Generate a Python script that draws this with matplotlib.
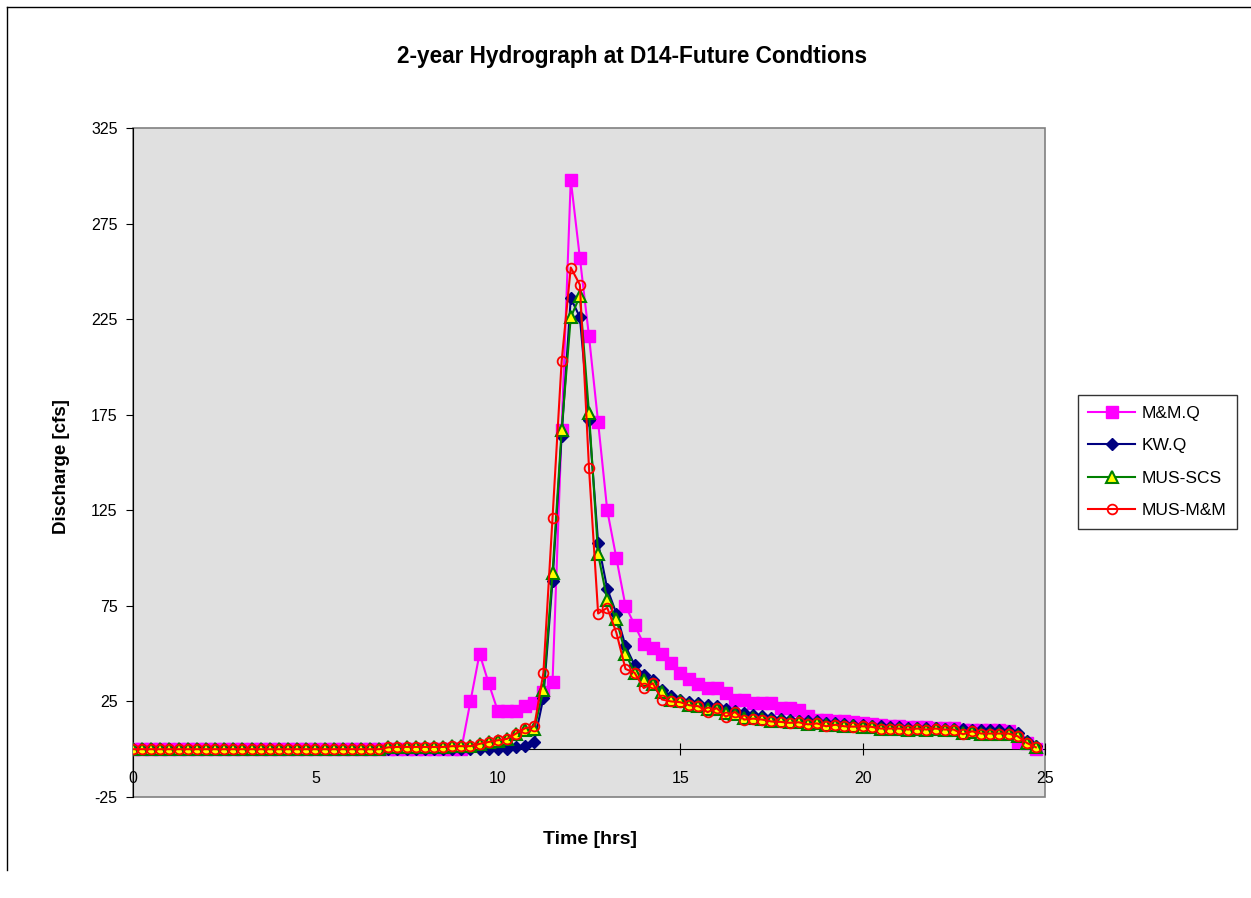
import numpy as np
import matplotlib
matplotlib.use('Agg')
import matplotlib.pyplot as plt
from matplotlib.lines import Line2D

# time axis, 15 minute steps
time_hrs = np.arange(0, 25, 0.25)

mm_q = [0, 0, 0, 0, 0, 0, 0, 0, 0, 0,
        0, 0, 0, 0, 0, 0, 0, 0, 0, 0,
        0, 0, 0, 0, 0, 0, 0, 0, 0, 0,
        0, 0, 0, 0, 0, 0, 0, 25, 50, 34.5,
        20, 20, 20, 22.5, 24, 30, 35, 167, 298, 257,
        216, 171, 125, 100, 75, 65, 55, 53, 50, 45,
        40, 36.5, 34, 32, 32, 29.5, 26, 26, 24, 24,
        24, 21.5, 21.5, 20.5, 17.5, 15.5, 15.5, 15, 14.5, 14,
        13.5, 13, 12.5, 12, 12, 11.5, 11.5, 11.5, 11, 11,
        11, 10, 10, 10, 10, 10, 9.5, 4, 3, 0]

kw_q = [0, 0, 0, 0, 0, 0, 0, 0, 0, 0,
        0, 0, 0, 0, 0, 0, 0, 0, 0, 0,
        0, 0, 0, 0, 0, 0, 0, 0, 0, 0,
        0, 0, 0, 0, 0, 0, 0, 0, 0, 0,
        0, 0.3, 1, 1.5, 4, 27, 88, 164, 236, 226,
        172, 108, 84, 71, 54, 44, 39, 36, 31, 28,
        26, 24.5, 24, 23, 22.5, 21, 20, 19, 18, 17.5,
        16.5, 16, 15.5, 15, 14.5, 14.5, 13.5, 13.5, 13, 12.8,
        12.5, 12.3, 12, 11.8, 11.5, 11.3, 11.2, 11, 11, 10.8,
        10.8, 10.5, 10.3, 10, 10, 9.8, 9.5, 8.5, 4.5, 1.5]

mus_scs = [0, 0, 0, 0, 0, 0, 0, 0, 0, 0,
           0, 0, 0, 0, 0, 0, 0, 0, 0, 0,
           0, 0, 0, 0, 0, 0, 0, 0, 1.0, 1.2,
           1.2, 1.2, 1.2, 1.2, 1.2, 1.5, 1.6, 1.8, 2.8, 3.6,
           4.5, 5.2, 7.8, 10.2, 10.5, 31, 92, 167, 226, 237,
           176, 102, 78, 68, 50, 40, 36, 34, 30, 26,
           25, 23, 22.5, 21, 21, 19, 18.5, 16.5, 16.5, 16,
           15, 14.7, 14, 14, 13, 13.5, 12.5, 12.5, 12, 12,
           11.8, 11.7, 10.8, 10.8, 10.8, 10.3, 10.5, 10.3, 10.5, 10.3,
           10.3, 8.5, 8.8, 8.2, 8.2, 8.2, 8.2, 6.8, 3.3, 1.0]

mus_mm = [0, 0, 0, 0, 0, 0, 0, 0, 0, 0,
          0, 0, 0, 0, 0, 0, 0, 0, 0, 0,
          0, 0, 0, 0, 0, 0, 0, 0, 1.0, 1.2,
          1.2, 1.2, 1.2, 1.2, 1.2, 1.6, 1.6, 1.6, 2.8, 3.8,
          4.7, 5.4, 8.2, 11, 12, 40, 121, 203, 252, 243,
          147, 71, 74, 61, 42, 40, 32, 34.5, 26, 25,
          24.6, 23, 22.5, 19.4, 21.5, 17, 19.5, 15.5, 16, 15.5,
          14.5, 14.3, 13.8, 14.1, 13, 13.5, 12, 12.8, 12, 11.8,
          12, 11.7, 10.8, 10.8, 10.8, 10.3, 10.8, 10.3, 10.8, 10.3,
          10.3, 7.8, 9.4, 8.2, 8.2, 8.2, 8.2, 6.8, 3.3, 1.0]

y_ticks = [-25, 25, 75, 125, 175, 225, 275, 325]
x_ticks = [0, 5, 10, 15, 20, 25]

plt.rcParams['font.family'] = ['Liberation Sans', 'DejaVu Sans']
plt.rcParams['axes.unicode_minus'] = False

fig = plt.figure(figsize=(12.51, 8.98), dpi=100)
fig.patch.set_facecolor('white')
ax = fig.add_axes([133 / 1251, 1 - 797 / 898, (1045 - 133) / 1251, (797 - 128) / 898])
ax.set_facecolor('#E0E0E0')
ax.patch.set_edgecolor('#808080')
ax.patch.set_linewidth(1.2)

ax.plot(time_hrs, mm_q, color='#FF00FF', lw=1.5, marker='s', ms=8,
        mfc='#FF00FF', mec='#FF00FF', label='M&M.Q', zorder=3)
ax.plot(time_hrs, kw_q, color='#000080', lw=1.5, marker='D', ms=6,
        mfc='#000080', mec='#000080', label='KW.Q', zorder=4)
ax.plot(time_hrs, mus_scs, color='#008000', lw=1.5, marker='^', ms=8,
        mfc='#FFFF00', mec='#008000', mew=1.5, label='MUS-SCS', zorder=5)
ax.plot(time_hrs, mus_mm, color='#FF0000', lw=1.5, marker='o', ms=7,
        mfc='none', mec='#FF0000', mew=1.3, label='MUS-M&M', zorder=6)

ax.set_xlim(0, 25)
ax.set_ylim(-25, 325)
ax.set_xticks(x_ticks)
ax.set_yticks(y_ticks)

ax.spines['top'].set_visible(False)
ax.spines['right'].set_visible(False)
ax.spines['left'].set_color('black')
ax.spines['bottom'].set_position(('data', 0))
ax.spines['bottom'].set_color('black')
ax.tick_params(axis='x', direction='inout', length=8, pad=12, labelsize=11.5)
ax.tick_params(axis='y', direction='out', length=5, pad=6, labelsize=11.5)

fig.text(632 / 1251, 1 - 56 / 898, '2-year Hydrograph at D14-Future Condtions',
         ha='center', va='center', fontsize=16.3, fontweight='bold')
fig.text(62 / 1251, 1 - 467 / 898, 'Discharge [cfs]', rotation=90,
         ha='center', va='center', fontsize=13.5, fontweight='bold')
fig.text(590 / 1251, 1 - 840 / 898, 'Time [hrs]',
         ha='center', va='center', fontsize=14, fontweight='bold')

leg = fig.legend(loc='center left', bbox_to_anchor=(1078 / 1251, 1 - 462 / 898),
                 borderaxespad=0, fontsize=12.5, frameon=True, fancybox=False,
                 edgecolor='black', handlelength=2.7, handletextpad=0.35,
                 borderpad=0.6, labelspacing=1.0)
leg.get_frame().set_linewidth(1)

# outer chart border
fig.add_artist(Line2D([7 / 1251, 7 / 1251], [1 - 870 / 898, 1 - 7 / 898], color='black', lw=1))
fig.add_artist(Line2D([7 / 1251, 1], [1 - 7 / 898, 1 - 7 / 898], color='black', lw=1))

fig.savefig('out.png', dpi=100)
